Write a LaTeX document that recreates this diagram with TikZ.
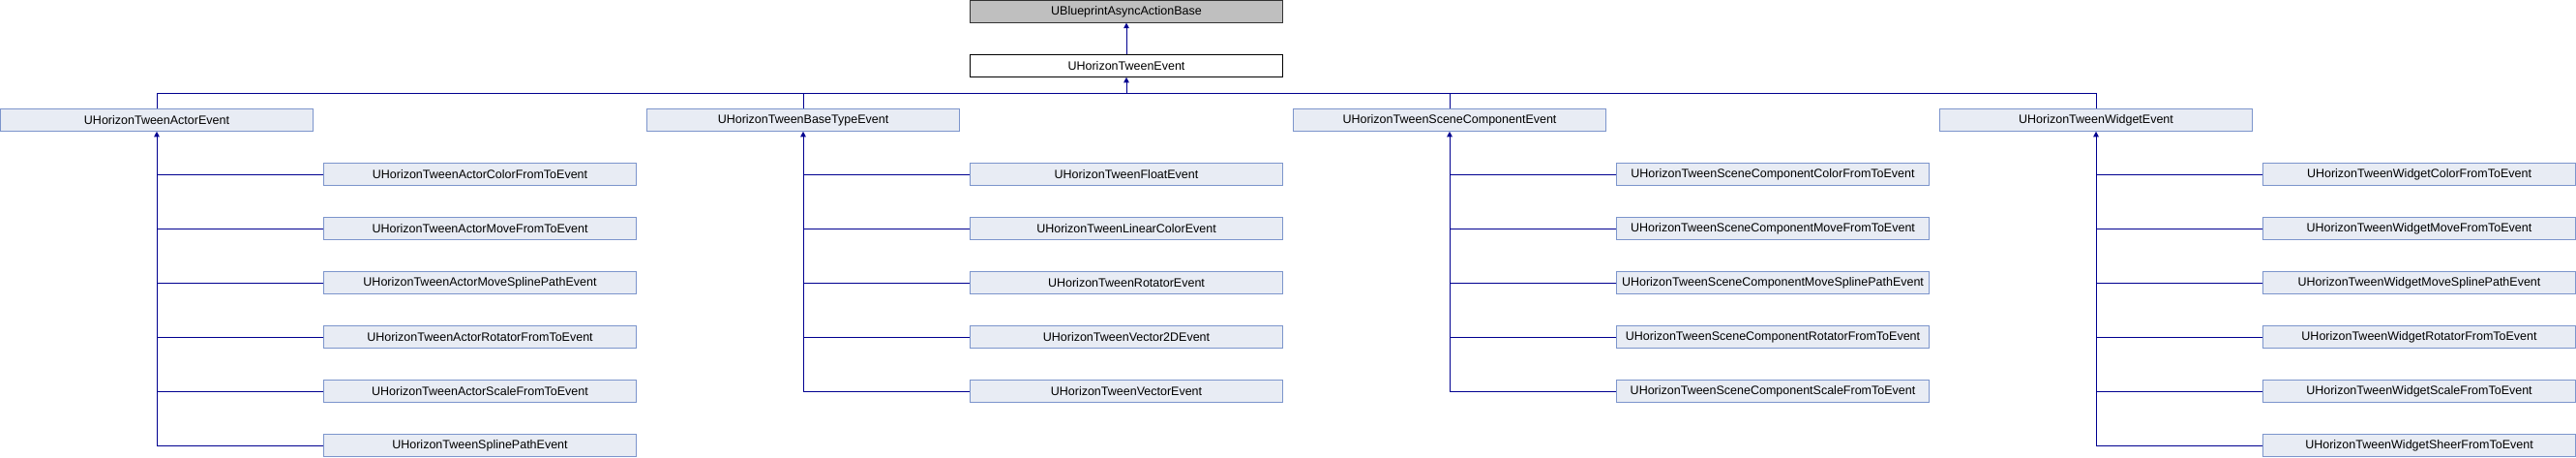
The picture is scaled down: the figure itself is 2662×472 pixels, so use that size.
\documentclass[tikz,border=0pt]{standalone}
\usepackage{fontspec}
\setmainfont{Liberation Sans}
\usetikzlibrary{arrows.meta}
\definecolor{edgec}{RGB}{0,0,144}
\definecolor{boxfill}{RGB}{232,236,244}
\definecolor{boxline}{RGB}{124,149,204}
\definecolor{topfill}{RGB}{191,191,191}
\begin{document}
\begin{tikzpicture}[x=1pt,y=-1pt,
  cls/.style={draw=boxline,fill=boxfill,line width=1pt,minimum width=323pt,minimum height=22.6pt,inner sep=0pt,font=\fontsize{12.5}{14}\selectfont,text=black},
  basecls/.style={cls,draw=black!80,fill=topfill},
  curcls/.style={cls,draw=black,fill=white},
  edge/.style={draw=edgec,line width=1pt},
  inh/.style={edge,-{Triangle[width=5.5pt,length=5.5pt]}}
]
\useasboundingbox (0,0) rectangle (2662,472);
\node[basecls] (base) at (1164,11.8) {UBlueprintAsyncActionBase};
\node[curcls] (te) at (1164,68) {UHorizonTweenEvent};
\coordinate (bus) at (1164,96);
\node[cls] (ga) at (162,124) {UHorizonTweenActorEvent};
\node[cls] (gb) at (830,124) {UHorizonTweenBaseTypeEvent};
\node[cls] (gs) at (1498,124) {UHorizonTweenSceneComponentEvent};
\node[cls] (gw) at (2166,124) {UHorizonTweenWidgetEvent};
\draw[inh] (te.north) -- (base.south);
\draw[inh] (bus) -- (te.south);
\draw[edge] (ga.north) -- (ga.north |- bus) -- (gw.north |- bus) -- (gw.north);
\draw[edge] (gb.north) -- (gb.north |- bus);
\draw[edge] (gs.north) -- (gs.north |- bus);
% Actor children
\foreach \n [count=\i] in {ActorColorFromTo,ActorMoveFromTo,ActorMoveSplinePath,ActorRotatorFromTo,ActorScaleFromTo,SplinePath}{
  \node[cls] (a\i) at (496,124+56*\i) {UHorizonTween\n Event};
  \draw[edge] (ga.south |- a\i.west) -- (a\i.west);
}
\draw[inh] (ga.south |- a6.west) -- (ga.south);
% BaseType children
\foreach \n [count=\i] in {Float,LinearColor,Rotator,Vector2D,Vector}{
  \node[cls] (b\i) at (1164,124+56*\i) {UHorizonTween\n Event};
  \draw[edge] (gb.south |- b\i.west) -- (b\i.west);
}
\draw[inh] (gb.south |- b5.west) -- (gb.south);
% SceneComponent children
\foreach \n [count=\i] in {ColorFromTo,MoveFromTo,MoveSplinePath,RotatorFromTo,ScaleFromTo}{
  \node[cls] (s\i) at (1832,124+56*\i) {UHorizonTweenSceneComponent\n Event};
  \draw[edge] (gs.south |- s\i.west) -- (s\i.west);
}
\draw[inh] (gs.south |- s5.west) -- (gs.south);
% Widget children
\foreach \n [count=\i] in {ColorFromTo,MoveFromTo,MoveSplinePath,RotatorFromTo,ScaleFromTo,SheerFromTo}{
  \node[cls] (w\i) at (2500,124+56*\i) {UHorizonTweenWidget\n Event};
  \draw[edge] (gw.south |- w\i.west) -- (w\i.west);
}
\draw[inh] (gw.south |- w6.west) -- (gw.south);
\end{tikzpicture}
\end{document}
